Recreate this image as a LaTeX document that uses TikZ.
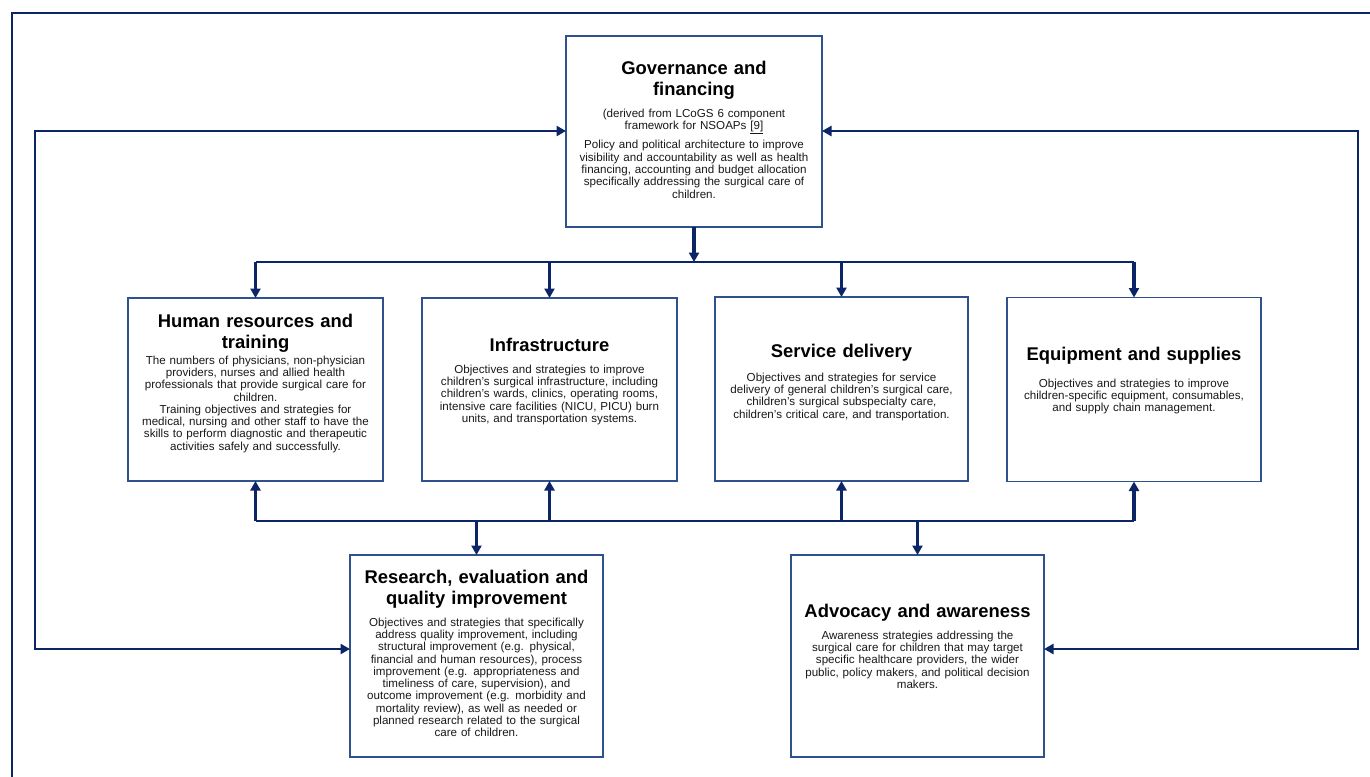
\documentclass[tikz,border=0pt]{standalone}
\usepackage{fontspec}
\setmainfont{Liberation Sans}
\usetikzlibrary{arrows.meta}
\definecolor{navy}{HTML}{0B2566}
\definecolor{boxblue}{HTML}{2F528F}
\begin{document}
\begin{tikzpicture}[x=1pt,y=-1pt,
  box/.style={draw=boxblue, line width=1.5pt, inner sep=0pt, outer sep=0pt, fill=white},
  ttl/.style={font=\fontsize{18.4}{21}\selectfont\bfseries, align=center, text width=250pt, inner sep=0pt, anchor=north},
  bdy/.style={font=\fontsize{11.6}{12.3}\selectfont, align=center, text width=250pt, inner sep=0pt, anchor=north, text=black!90},
  tip/.tip={Triangle[length=9.5pt,width=10pt]},
  stem/.style={draw=navy, line width=3.2pt, -tip},
  bus/.style={draw=navy, line width=2.3pt},
  fb/.style={draw=navy, line width=2.7pt, tip-tip},
  frame/.style={draw=navy, line width=1.5pt}]
\fill[white] (0,0) rectangle (1370,776);
\useasboundingbox (0,0) rectangle (1370,776);
% outer frame
\draw[frame] (12,800) -- (12,13) -- (1400,13);
% boxes
\node[box, minimum width=256pt, minimum height=191pt] (gov) at (694,131.5) {};
\node[box, minimum width=255pt, minimum height=183pt] (hr) at (255.5,389.5) {};
\node[box, minimum width=255pt, minimum height=183pt] (infra) at (549.5,389.5) {};
\node[box, minimum width=253pt, minimum height=184pt] (serv) at (841.5,389) {};
\node[box, minimum width=254pt, minimum height=184pt] (equip) at (1134,389.5) {};
\node[box, minimum width=253pt, minimum height=202pt] (res) at (476.5,656) {};
\node[box, minimum width=253pt, minimum height=202pt] (adv) at (917.5,656) {};
% texts
\node[ttl] (govT) at (694,61) {Governance and\\financing};
\node[bdy] (govB) at (694,108.5) {(derived from LCoGS 6 component\\framework for NSOAPs \underline{[9]}\\[5.7pt]Policy and political architecture to improve\\visibility and accountability as well as health\\financing, accounting and budget allocation\\specifically addressing the surgical care of\\children.};
\node[ttl] (hrT) at (255.5,314) {Human resources and\\training};
\node[bdy] (hrB) at (255.5,355.5) {The numbers of physicians, non-physician\\providers, nurses and allied health\\professionals that provide surgical care for\\children.\\Training objectives and strategies for\\medical, nursing and other staff to have the\\skills to perform diagnostic and therapeutic\\activities safely and successfully.};
\node[ttl] (infraT) at (549.5,338) {Infrastructure};
\node[bdy] (infraB) at (549.5,364.5) {Objectives and strategies to improve\\children's surgical infrastructure, including\\children's wards, clinics, operating rooms,\\intensive care facilities (NICU, PICU) burn\\units, and transportation systems.};
\node[ttl] (servT) at (841.5,344) {Service delivery};
\node[bdy] (servB) at (841.5,372.5) {Objectives and strategies for service\\delivery of general children’s surgical care,\\children’s surgical subspecialty care,\\children’s critical care, and transportation.};
\node[ttl] (equipT) at (1134,347) {Equipment and supplies};
\node[bdy] (equipB) at (1134,378.5) {Objectives and strategies to improve\\children-specific equipment, consumables,\\and supply chain management.};
\node[ttl] (resT) at (476.5,570) {Research, evaluation and\\quality improvement};
\node[bdy] (resB) at (476.5,617.5) {Objectives and strategies that specifically\\address quality improvement, including\\structural improvement (e.g. physical,\\financial and human resources), process\\improvement (e.g. appropriateness and\\timeliness of care, supervision), and\\outcome improvement (e.g. morbidity and\\mortality review), as well as needed or\\planned research related to the surgical\\care of children.};
\node[ttl] (advT) at (917.5,604) {Advocacy and awareness};
\node[bdy] (advB) at (917.5,630.5) {Awareness strategies addressing the\\surgical care for children that may target\\specific healthcare providers, the wider\\public, policy makers, and political decision\\makers.};
% bus coordinates
\coordinate (tb) at (0,262);
\coordinate (bb) at (0,521);
\coordinate (lt) at (35,131);
\coordinate (lb) at (35,649);
\coordinate (rt) at (1358,131);
\coordinate (rb) at (1358,649);
% top distribution
\draw[stem] (gov.south) -- (gov.south |- tb);
\draw[bus] (hr.north |- tb) -- (equip.north |- tb);
\foreach \b in {hr,infra,serv,equip} \draw[stem] (\b.north |- tb) -- (\b.north);
% bottom bus
\draw[bus] (hr.south |- bb) -- (equip.south |- bb);
\foreach \b in {hr,infra,serv,equip} \draw[stem] (\b.south |- bb) -- (\b.south);
\draw[stem] (res.north |- bb) -- (res.north);
\draw[stem] (adv.north |- bb) -- (adv.north);
% feedback loops
\draw[fb] (gov.west |- lt) -- (lt) -- (lb) -- (res.west |- lb);
\draw[fb] (gov.east |- rt) -- (rt) -- (rb) -- (adv.east |- rb);
\end{tikzpicture}
\end{document}
